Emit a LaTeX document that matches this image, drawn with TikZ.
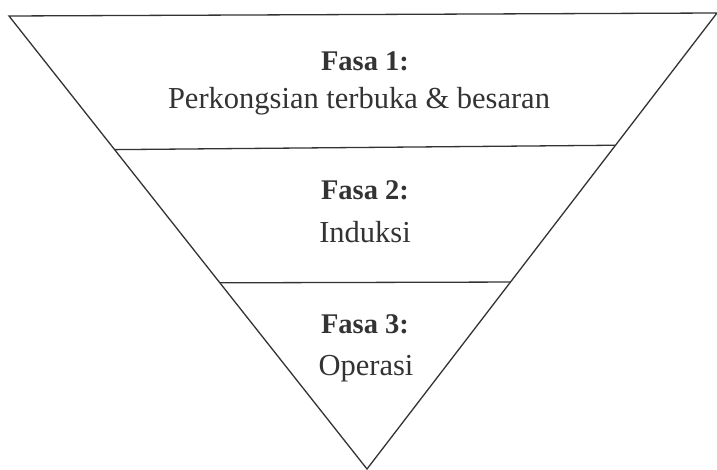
\documentclass[tikz,border=0pt]{standalone}
\usepackage{fontspec}
\setmainfont{Liberation Serif}
\usepackage{tikz}
\usepackage{xcolor}
\usetikzlibrary{calc, positioning}

\definecolor{ink}{HTML}{333333}

\begin{document}
\begin{tikzpicture}[x=1pt, y=-1pt, line width=1.3pt, draw=ink, text=ink,
    phase/.style={anchor=base, font=\fontsize{28.5}{32}\selectfont\bfseries},
    label/.style={anchor=base, font=\fontsize{30.5}{36}\selectfont}]
  \useasboundingbox (0,0) rectangle (717,470);
  \coordinate (tl) at (9,16);
  \coordinate (tr) at (717,13);
  \coordinate (ap) at (367,469);
  \draw[line join=miter] (tl) -- (tr) -- (ap) -- cycle;
  % band borders
  \draw ($(tl)!0.295!(ap)$) -- ($(tr)!0.29!(ap)$);
  \draw ($(tl)!0.589!(ap)$) -- ($(tr)!0.59!(ap)$);
  \node[phase] (f1) at (365,71) {Fasa 1:};
  \node[label] (l1) at (359,109) {Perkongsian terbuka \& besaran};
  \node[phase] (f2) at (365,200) {Fasa 2:};
  \node[label] (l2) at (365,243) {Induksi};
  \node[phase] (f3) at (365,333) {Fasa 3:};
  \node[label] (l3) at (366,375) {Operasi};
\end{tikzpicture}
\end{document}
